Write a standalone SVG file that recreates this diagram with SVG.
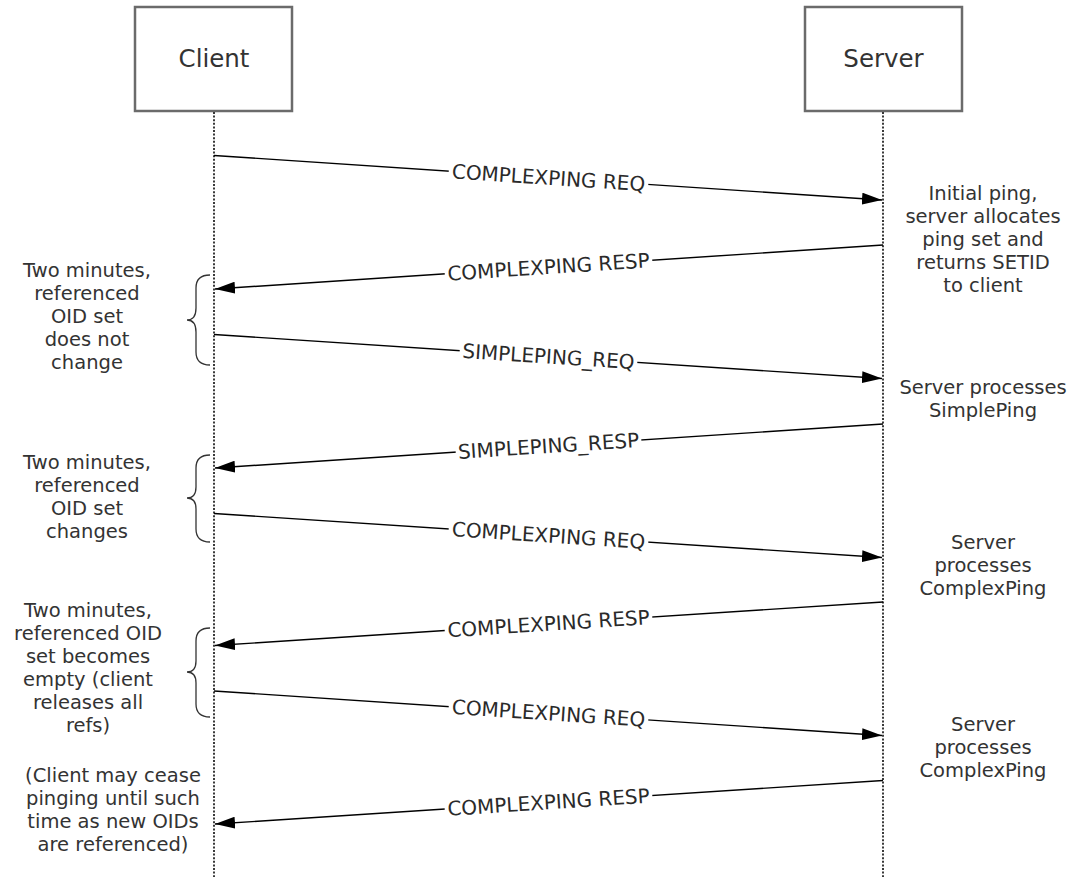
<svg xmlns="http://www.w3.org/2000/svg" width="1071" height="877" viewBox="0 0 1071 877">
<defs>
<style>
.box{fill:#fff;stroke:#6b6b6b;stroke-width:2.5}
.life{stroke:#3a3a3a;stroke-width:2;stroke-dasharray:2 1.6;fill:none}
.msg{stroke:#000;stroke-width:1.4;fill:none;marker-end:url(#ah)}
.title{font-family:"DejaVu Sans",Verdana,sans-serif;font-size:24.5px;fill:#333;text-anchor:middle}
.lbl{font-family:"DejaVu Sans",Verdana,sans-serif;font-size:20px;fill:#2a2a2a;text-anchor:middle}
.note{font-family:"DejaVu Sans",Verdana,sans-serif;font-size:19.5px;fill:#333;text-anchor:middle}
.bg{fill:#fff}
.brace{stroke:#333;stroke-width:1.3;fill:none}
</style>
<marker id="ah" viewBox="0 0 20 12" refX="20" refY="6" markerWidth="20" markerHeight="12" markerUnits="userSpaceOnUse" orient="auto">
<path d="M0,0 L20,6 L0,12 z" fill="#000"/>
</marker>
</defs>
<rect width="1071" height="877" fill="#fff"/>

<g id="client">
<rect class="box" x="135" y="7" width="157" height="104"/>
<text class="title" x="214" y="67">Client</text>
<line class="life" x1="214" y1="112" x2="214" y2="877"/>
</g>
<g id="server">
<rect class="box" x="805" y="7" width="157" height="104"/>
<text class="title" x="883.5" y="67">Server</text>
<line class="life" x1="883" y1="112" x2="883" y2="877"/>
</g>

<g id="connectors">
<line class="msg" x1="214" y1="155.5" x2="882" y2="200"/>
<g transform="translate(548.5,177.75) rotate(3.81)"><rect class="bg" x="-100" y="-10" width="200" height="20"/><text class="lbl" x="0" y="7">COMPLEXPING REQ</text></g>

<line class="msg" x1="883" y1="245" x2="215" y2="289"/>
<g transform="translate(548.5,267) rotate(-3.77)"><rect class="bg" x="-104" y="-10" width="208" height="20"/><text class="lbl" x="0" y="7">COMPLEXPING RESP</text></g>

<line class="msg" x1="214" y1="334.5" x2="882" y2="378.5"/>
<g transform="translate(548.5,356.5) rotate(3.77)"><rect class="bg" x="-89" y="-10" width="178" height="20"/><text class="lbl" x="0" y="7">SIMPLEPING_REQ</text></g>

<line class="msg" x1="883" y1="424" x2="215" y2="468"/>
<g transform="translate(548.5,446) rotate(-3.77)"><rect class="bg" x="-93" y="-10" width="186" height="20"/><text class="lbl" x="0" y="7">SIMPLEPING_RESP</text></g>

<line class="msg" x1="214" y1="513.5" x2="882" y2="557.5"/>
<g transform="translate(548.5,535.5) rotate(3.77)"><rect class="bg" x="-100" y="-10" width="200" height="20"/><text class="lbl" x="0" y="7">COMPLEXPING REQ</text></g>

<line class="msg" x1="883" y1="602" x2="215" y2="645.5"/>
<g transform="translate(548.5,623.75) rotate(-3.73)"><rect class="bg" x="-104" y="-10" width="208" height="20"/><text class="lbl" x="0" y="7">COMPLEXPING RESP</text></g>

<line class="msg" x1="214" y1="691" x2="882" y2="735.5"/>
<g transform="translate(548.5,713.25) rotate(3.81)"><rect class="bg" x="-100" y="-10" width="200" height="20"/><text class="lbl" x="0" y="7">COMPLEXPING REQ</text></g>

<line class="msg" x1="883" y1="780.5" x2="215" y2="824"/>
<g transform="translate(548.5,802.25) rotate(-3.73)"><rect class="bg" x="-104" y="-10" width="208" height="20"/><text class="lbl" x="0" y="7">COMPLEXPING RESP</text></g>
</g>

<g id="brace1">
<path class="brace" d="M210,275 Q196,275 196,288 L196,308 Q196,320 187,320 Q196,320 196,332 L196,352 Q196,365 210,365"/>
</g>
<g id="brace2">
<path class="brace" d="M210,455 Q196,455 196,468 L196,487 Q196,498 187,498 Q196,498 196,509 L196,529 Q196,542 210,542"/>
</g>
<g id="brace3">
<path class="brace" d="M210,628 Q196,628 196,641 L196,661 Q196,672 187,672 Q196,672 196,683 L196,704 Q196,717 210,717"/>
</g>

<g id="note-client-1">
<text class="note" x="87" y="277">Two minutes,</text>
<text class="note" x="87" y="300">referenced</text>
<text class="note" x="87" y="323">OID set</text>
<text class="note" x="87" y="346">does not</text>
<text class="note" x="87" y="369">change</text>
</g>
<g id="note-client-2">
<text class="note" x="87" y="469">Two minutes,</text>
<text class="note" x="87" y="492">referenced</text>
<text class="note" x="87" y="515">OID set</text>
<text class="note" x="87" y="538">changes</text>
</g>
<g id="note-client-3">
<text class="note" x="88" y="617">Two minutes,</text>
<text class="note" x="88" y="640">referenced OID</text>
<text class="note" x="88" y="663">set becomes</text>
<text class="note" x="88" y="686">empty (client</text>
<text class="note" x="88" y="709">releases all</text>
<text class="note" x="88" y="732">refs)</text>
</g>
<g id="note-client-4">
<text class="note" x="113" y="782">(Client may cease</text>
<text class="note" x="113" y="805">pinging until such</text>
<text class="note" x="113" y="828">time as new OIDs</text>
<text class="note" x="113" y="851">are referenced)</text>
</g>

<g id="note-server-1">
<text class="note" x="983" y="200">Initial ping,</text>
<text class="note" x="983" y="223">server allocates</text>
<text class="note" x="983" y="246">ping set and</text>
<text class="note" x="983" y="269">returns SETID</text>
<text class="note" x="983" y="292">to client</text>
</g>
<g id="note-server-2">
<text class="note" x="983" y="394">Server processes</text>
<text class="note" x="983" y="417">SimplePing</text>
</g>
<g id="note-server-3">
<text class="note" x="983" y="549">Server</text>
<text class="note" x="983" y="572">processes</text>
<text class="note" x="983" y="595">ComplexPing</text>
</g>
<g id="note-server-4">
<text class="note" x="983" y="731">Server</text>
<text class="note" x="983" y="754">processes</text>
<text class="note" x="983" y="777">ComplexPing</text>
</g>
</svg>
